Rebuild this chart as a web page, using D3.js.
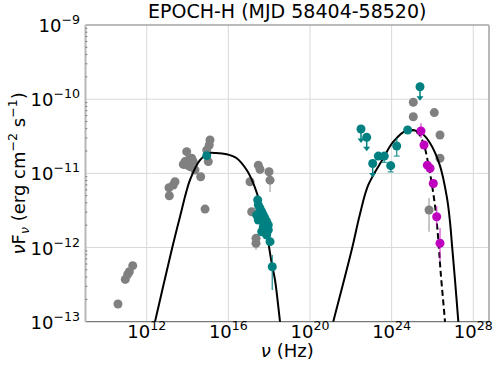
<!DOCTYPE html>
<html>
<head>
<meta charset="utf-8">
<script src="https://cdn.jsdelivr.net/npm/d3@7"></script>
<style>
  html, body { margin: 0; padding: 0; background: #fff; }
  svg { display: block; font-family: "DejaVu Sans", sans-serif; }
</style>
</head>
<body>
<svg id="chart" width="498" height="365"></svg>
<script>
// ---------------- data ----------------
const titleText = "EPOCH-H (MJD 58404-58520)";
const xTickValues = [1e12, 1e16, 1e20, 1e24, 1e28];
const xTickExps = ["12", "16", "20", "24", "28"];
const yTickValues = [1e-13, 1e-12, 1e-11, 1e-10, 1e-9];
const yTickExps = ["\u221213", "\u221212", "\u221211", "\u221210", "\u22129"];

// archival data (gray)
const grayNu = [2.06e11, 1.40e11, 1.17e11, 8.9e10, 3.9e10,
  1.26e15, 1.16e15, 8.7e14, 1.04e15, 9.1e13, 7.5e13, 6.2e13, 1.09e14, 1.6e14, 1.91e14, 1.32e14, 2.32e14, 4.4e14,
  2.43e13, 2.0e13, 1.23e13, 1.28e13, 7.2e14, 9.1e13,
  2.93e17, 3.55e17, 9.8e17, 1.10e18, 1.15e17, 1.39e17, 2.26e17, 2.26e17,
  1.15e25, 1.15e25, 1.23e26, 2.34e26, 2.34e26, 6.8e25];
const grayF = [5.69e-13, 4.72e-13, 4.35e-13, 3.72e-13, 1.73e-13,
  2.82e-11, 2.41e-11, 2.06e-11, 1.44e-11, 1.96e-11, 1.44e-11, 1.32e-11, 1.51e-11, 1.60e-11, 1.44e-11, 1.23e-11, 1.11e-11, 9.0e-12,
  7.7e-12, 6.97e-12, 6.4e-12, 4.99e-12, 3.3e-12, 1.30e-11,
  1.29e-11, 1.13e-11, 1.05e-11, 8.1e-12, 7.7e-12, 3.04e-12, 1.33e-12, 1.14e-12,
  9.1e-11, 5.8e-11, 6.6e-11, 3.29e-11, 1.60e-11, 3.2e-12];
const grayErrNu = [1.10e18, 2.26e17, 6.8e25];
const grayErrLo = [5.6e-12, 9.3e-13, 1.63e-12];
const grayErrHi = [8.8e-12, 1.5e-12, 4.66e-12];

// this epoch (teal) detections
const tealNu = [8.7e14, 2.73e17, 2.93e17, 3.55e17, 4.30e17, 2.44e17, 5.14e17, 6.24e17, 2.93e17, 7.55e17, 9.04e17,
  5.14e17, 9.04e17, 4.30e17, 7.55e17, 1.10e18, 1.42e18, 2.22e23, 4.37e23, 9.0e23, 1.77e24, 6.1e24];
const tealF = [1.73e-11, 4.37e-12, 3.74e-12, 3.38e-12, 3.04e-12, 2.74e-12, 2.74e-12, 2.47e-12, 2.35e-12, 2.23e-12, 2.01e-12,
  1.91e-12, 1.72e-12, 1.63e-12, 1.47e-12, 1.20e-12, 5.5e-13, 1.71e-11, 1.71e-11, 1.27e-11, 2.34e-11, 3.84e-11];
const tealLo = [1.73e-11, 3.97e-12, 3.40e-12, 3.07e-12, 2.76e-12, 2.49e-12, 2.49e-12, 2.24e-12, 2.14e-12, 2.03e-12, 1.83e-12,
  1.74e-12, 1.56e-12, 1.48e-12, 1.34e-12, 1.05e-12, 2.67e-13, 1.58e-11, 1.41e-11, 1.05e-11, 1.71e-11, 3.84e-11];
const tealHi = [1.73e-11, 4.81e-12, 4.11e-12, 3.72e-12, 3.34e-12, 3.01e-12, 3.01e-12, 2.72e-12, 2.59e-12, 2.45e-12, 2.21e-12,
  2.10e-12, 1.89e-12, 1.79e-12, 1.62e-12, 1.32e-12, 7.9e-13, 1.85e-11, 1.92e-11, 1.47e-11, 2.97e-11, 3.84e-11];

// this epoch (teal) upper limits
const ulNu = [3.15e22, 6.0e22, 1.18e23, 2.45e25];
const ulF = [3.96e-11, 3.06e-11, 1.36e-11, 1.47e-10];

// VHE (magenta)
const magNu = [2.74e25, 3.85e25, 5.6e25, 7.6e25, 1.10e26, 1.61e26, 2.34e26];
const magF = [3.72e-11, 2.41e-11, 1.29e-11, 1.17e-11, 7.3e-12, 2.6e-12, 1.14e-12];
const magLo = [3.0e-11, 2.2e-11, 1.15e-11, 1.05e-11, 6.6e-12, 1.91e-12, 6.6e-13];
const magHi = [4.73e-11, 2.65e-11, 1.45e-11, 1.3e-11, 8.0e-12, 3.63e-12, 1.83e-12];

// model curves
const synchNu = [1.42e12, 2.54e12, 1.67e13, 4.27e13, 1.32e14, 4.07e14, 1.04e15, 2.48e15, 8.28e15, 2.56e16, 7.91e16,
  1.67e17, 3.55e17, 7.55e17, 1.33e18, 1.93e18, 3.39e18, 4.58e18];
const synchF = [5.0e-14, 1.0e-13, 9.25e-13, 2.60e-12, 8.15e-12, 1.51e-11, 1.86e-11, 1.88e-11, 1.81e-11, 1.60e-11, 1.11e-11,
  7.35e-12, 3.94e-12, 1.56e-12, 6.12e-13, 3.65e-13, 1.0e-13, 5.0e-14];
const icNu = [7.26e20, 1.38e21, 1.10e22, 2.81e22, 7.18e22, 3.90e23, 1.21e24, 5.85e24, 1.39e25, 3.07e25, 7.57e25, 2.34e26,
  5.15e26, 7.23e26, 9.06e26, 1.27e27, 1.85e27, 2.24e27];
const icF = [5.0e-14, 1.0e-13, 9.25e-13, 2.83e-12, 6.97e-12, 1.60e-11, 2.67e-11, 3.84e-11, 3.78e-11, 3.44e-11, 2.56e-11, 1.26e-11,
  4.66e-12, 2.21e-12, 1.08e-12, 3.65e-13, 1.0e-13, 5.2e-14];
const eblNu = [5.85e24, 1.39e25, 2.32e25, 3.85e25, 6.40e25, 9.48e25, 1.41e26, 1.97e26, 2.47e26, 4.11e26, 4.86e26];
const eblF = [3.84e-11, 3.72e-11, 3.29e-11, 2.41e-11, 1.29e-11, 6.97e-12, 3.21e-12, 1.19e-12, 4.98e-13, 1.0e-13, 5.2e-14];

// ---------------- drawing ----------------
const svg = d3.select("#chart");
const L = 85.5, R = 489, T = 25, B = 321.7;
const x = d3.scaleLog().domain([1e9, Math.pow(10, 28.77)]).range([L, R]);
const y = d3.scaleLog().domain([1e-13, 1e-9]).range([B, T]);

svg.append("defs").append("clipPath").attr("id", "clip")
  .append("rect").attr("x", L).attr("y", T).attr("width", R - L).attr("height", B - T);

// grid
const grid = svg.append("g");
grid.selectAll("line.gx").data(xTickValues).enter().append("line")
  .attr("x1", d => x(d)).attr("x2", d => x(d)).attr("y1", T).attr("y2", B)
  .attr("stroke", "#d9d9d9").attr("stroke-width", 1);
grid.selectAll("line.gy").data(yTickValues.slice(1, 4)).enter().append("line")
  .attr("y1", d => y(d)).attr("y2", d => y(d)).attr("x1", L).attr("x2", R)
  .attr("stroke", "#d9d9d9").attr("stroke-width", 1);

// spines
svg.append("line").attr("x1", L).attr("x2", R).attr("y1", T).attr("y2", T).attr("stroke", "#7a7a7a").attr("stroke-width", 1.2);
svg.append("line").attr("x1", L).attr("x2", R).attr("y1", B).attr("y2", B).attr("stroke", "#7a7a7a").attr("stroke-width", 1.2);
svg.append("line").attr("x1", L).attr("x2", L).attr("y1", T).attr("y2", B).attr("stroke", "#b8b8b8").attr("stroke-width", 2);
svg.append("line").attr("x1", R).attr("x2", R).attr("y1", T).attr("y2", B).attr("stroke", "#b8b8b8").attr("stroke-width", 2);

// minor y ticks on left spine
const minorY = [];
for (let e = -13; e < -9; e++) for (let m = 2; m < 10; m++) minorY.push(m * Math.pow(10, e));
svg.selectAll("line.my").data(minorY).enter().append("line")
  .attr("x1", L).attr("x2", L + 1.8).attr("y1", d => y(d)).attr("y2", d => y(d))
  .attr("stroke", "#555").attr("stroke-width", 0.8);

const plot = svg.append("g").attr("clip-path", "url(#clip)");

// gray error bars and points
plot.selectAll("line.ge").data(grayErrNu).enter().append("line")
  .attr("x1", d => x(d)).attr("x2", d => x(d))
  .attr("y1", (d, i) => y(grayErrLo[i])).attr("y2", (d, i) => y(grayErrHi[i]))
  .attr("stroke", "#b5b5b5").attr("stroke-width", 1.5);
plot.selectAll("circle.g").data(grayNu).enter().append("circle")
  .attr("cx", d => x(d)).attr("cy", (d, i) => y(grayF[i])).attr("r", 4.5)
  .attr("fill", "#808080");

// curves
const line = d3.line().x(d => x(d[0])).y(d => y(d[1])).curve(d3.curveCatmullRom.alpha(0.5));
plot.append("path").attr("d", line(synchNu.map((v, i) => [v, synchF[i]])))
  .attr("fill", "none").attr("stroke", "#000").attr("stroke-width", 2);
plot.append("path").attr("d", line(icNu.map((v, i) => [v, icF[i]])))
  .attr("fill", "none").attr("stroke", "#000").attr("stroke-width", 2);
plot.append("path").attr("d", line(eblNu.map((v, i) => [v, eblF[i]])))
  .attr("fill", "none").attr("stroke", "#000").attr("stroke-width", 2).attr("stroke-dasharray", "6,3.5");

// teal error bars and points
const teal = "#008080";
plot.selectAll("line.te").data(tealNu).enter().append("line")
  .attr("x1", d => x(d)).attr("x2", d => x(d))
  .attr("y1", (d, i) => y(tealLo[i])).attr("y2", (d, i) => y(tealHi[i]))
  .attr("stroke", teal).attr("stroke-opacity", 0.75).attr("stroke-width", 1.5);
plot.selectAll("line.tc").data(tealNu.slice(17, 21)).enter().append("line")
  .attr("x1", d => x(d) - 3).attr("x2", d => x(d) + 3)
  .attr("y1", (d, i) => y(tealLo[i + 17])).attr("y2", (d, i) => y(tealLo[i + 17]))
  .attr("stroke", teal).attr("stroke-opacity", 0.75).attr("stroke-width", 1.2);
plot.selectAll("circle.t").data(tealNu).enter().append("circle")
  .attr("cx", d => x(d)).attr("cy", (d, i) => y(tealF[i])).attr("r", 4.5)
  .attr("fill", teal);

// upper limits
const ul = plot.selectAll("g.ul").data(ulNu).enter().append("g");
ul.append("line")
  .attr("x1", d => x(d)).attr("x2", d => x(d))
  .attr("y1", (d, i) => y(ulF[i])).attr("y2", (d, i) => y(ulF[i]) + 11)
  .attr("stroke", teal).attr("stroke-width", 1.5);
ul.append("path")
  .attr("d", (d, i) => {
    const cx = x(d), cy = y(ulF[i]) + 14;
    return `M${cx - 3.5},${cy - 4.5}L${cx + 3.5},${cy - 4.5}L${cx},${cy}Z`;
  })
  .attr("fill", teal);
ul.append("circle").attr("cx", d => x(d)).attr("cy", (d, i) => y(ulF[i])).attr("r", 4.5).attr("fill", teal);

// magenta
const mag = "#bf00bf";
plot.selectAll("line.me").data(magNu).enter().append("line")
  .attr("x1", d => x(d)).attr("x2", d => x(d))
  .attr("y1", (d, i) => y(magLo[i])).attr("y2", (d, i) => y(magHi[i]))
  .attr("stroke", mag).attr("stroke-opacity", 0.6).attr("stroke-width", 1.5);
plot.selectAll("circle.m").data(magNu).enter().append("circle")
  .attr("cx", d => x(d)).attr("cy", (d, i) => y(magF[i])).attr("r", 4.5)
  .attr("fill", mag);

// tick labels
const xl = svg.selectAll("text.xt").data(xTickValues).enter().append("text")
  .attr("x", d => x(d)).attr("y", 338).attr("text-anchor", "middle")
  .attr("font-size", 18).attr("fill", "#000");
xl.append("tspan").text("10");
xl.append("tspan").attr("dy", -8).attr("font-size", 12.6).text((d, i) => xTickExps[i]);

const yl = svg.selectAll("text.yt").data(yTickValues).enter().append("text")
  .attr("x", 80).attr("y", d => y(d) + 7).attr("text-anchor", "end")
  .attr("font-size", 18).attr("fill", "#000");
yl.append("tspan").text("10");
yl.append("tspan").attr("dy", -8).attr("font-size", 12.6).text((d, i) => yTickExps[i]);

// title
svg.append("text").attr("x", (L + R) / 2).attr("y", 18).attr("text-anchor", "middle")
  .attr("font-size", 19).attr("fill", "#000").text(titleText);

// x label
const xlab = svg.append("text").attr("x", (L + R) / 2).attr("y", 357).attr("text-anchor", "middle")
  .attr("font-size", 18).attr("fill", "#000");
xlab.append("tspan").attr("font-style", "italic").text("\u03bd");
xlab.append("tspan").text(" (Hz)");

// y label
const ylab = svg.append("text").attr("transform", `translate(24.5,${(T + B) / 2}) rotate(-90)`)
  .attr("text-anchor", "middle").attr("font-size", 18).attr("fill", "#000");
ylab.append("tspan").attr("font-style", "italic").text("\u03bd");
ylab.append("tspan").text("F");
ylab.append("tspan").attr("dy", 4).attr("font-size", 12.6).attr("font-style", "italic").text("\u03bd");
ylab.append("tspan").attr("dy", -4).text(" (erg cm");
ylab.append("tspan").attr("dy", -8).attr("font-size", 12.6).text("\u22122");
ylab.append("tspan").attr("dy", 8).text(" s");
ylab.append("tspan").attr("dy", -8).attr("font-size", 12.6).text("\u22121");
ylab.append("tspan").attr("dy", 8).text(")");
</script>
</body>
</html>
